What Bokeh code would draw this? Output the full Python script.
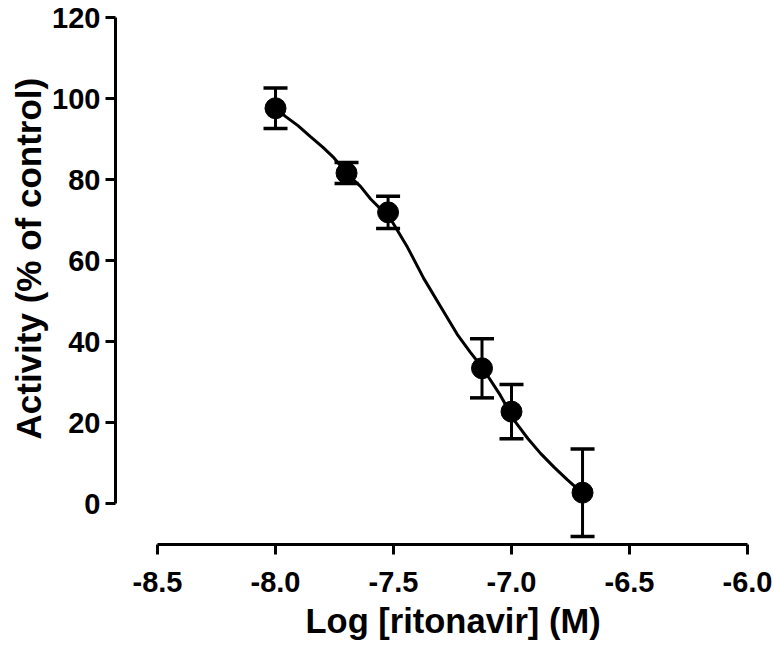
from bokeh.plotting import figure
from bokeh.models import ColumnDataSource, Whisker, TeeHead, FixedTicker, Range1d, Title
from bokeh.embed import file_html
from bokeh.resources import INLINE

# ---- data ----
log_conc = [-8.0, -7.699, -7.523, -7.125, -7.0, -6.699]
activity = [97.6, 81.6, 71.9, 33.4, 22.7, 2.7]
sem = [5.0, 2.6, 4.0, 7.3, 6.7, 10.8]

curve_x = [-8.0, -7.958, -7.905, -7.852, -7.800, -7.753, -7.689, -7.640, -7.597,
           -7.513, -7.440, -7.372, -7.300, -7.230, -7.175, -7.124, -7.047,
           -6.983, -6.930, -6.877, -6.820, -6.764, -6.700]
curve_y = [97.7, 95.6, 93.3, 90.6, 88.0, 85.4, 81.0, 78.3, 75.2,
           70.3, 63.2, 55.6, 48.6, 41.8, 37.4, 33.6, 26.7,
           20.1, 16.0, 12.4, 9.0, 5.9, 2.6]

x_ticks = [-8.5, -8.0, -7.5, -7.0, -6.5, -6.0]
x_tick_labels = ["-8.5", "-8.0", "-7.5", "-7.0", "-6.5", "-6.0"]
y_ticks = [0, 20, 40, 60, 80, 100, 120]
x_title = "Log [ritonavir] (M)"
y_title = "Activity (% of control)"

FONT = "Liberation Sans"

p = figure(width=774, height=645, output_backend="svg", toolbar_location=None,
           x_range=Range1d(-8.678, -6.0), y_range=Range1d(-10.1, 120),
           min_border_left=115, min_border_right=27, min_border_top=17,
           min_border_bottom=100)
p.outline_line_color = None
p.xgrid.visible = False
p.ygrid.visible = False
p.background_fill_color = "white"
p.border_fill_color = "white"

upper = [a + e for a, e in zip(activity, sem)]
lower = [a - e for a, e in zip(activity, sem)]
src = ColumnDataSource(dict(x=log_conc, y=activity, upper=upper, lower=lower))

p.line(curve_x, curve_y, line_color="black", line_width=3)

w = Whisker(source=src, base="x", upper="upper", lower="lower",
            line_color="black", line_width=3,
            upper_head=TeeHead(size=24, line_width=3.5, line_color="black"),
            lower_head=TeeHead(size=24, line_width=3.5, line_color="black"))
p.add_layout(w)

p.scatter("x", "y", source=src, size=21, marker="circle",
          fill_color="black", line_color="black")

for ax in (p.xaxis[0], p.yaxis[0]):
    ax.axis_line_width = 3
    ax.axis_line_color = "black"
    ax.major_tick_line_width = 3
    ax.major_tick_line_color = "black"
    ax.major_tick_out = 10
    ax.major_tick_in = 0
    ax.minor_tick_line_color = None
    ax.major_label_text_font = FONT
    ax.major_label_text_font_style = "bold"
    ax.major_label_text_font_size = "29px"
    ax.major_label_text_color = "black"

p.xaxis.ticker = FixedTicker(ticks=x_ticks)
p.xaxis.major_label_overrides = {t: l for t, l in zip(x_ticks, x_tick_labels)}
p.xaxis.bounds = (-8.5, -6.0)
p.xaxis.major_label_standoff = 17

p.yaxis.ticker = FixedTicker(ticks=y_ticks)
p.yaxis.bounds = (0, 120)
p.yaxis.major_label_standoff = 5

xt = Title(text=x_title, align="left", offset=190, standoff=11,
           text_font=FONT, text_font_style="bold", text_font_size="34.5px",
           text_color="black")
p.add_layout(xt, "below")

yt = Title(text=y_title, align="left", offset=105, standoff=0,
           vertical_align="top",
           text_font=FONT, text_font_style="bold", text_font_size="35px",
           text_color="black")
p.add_layout(yt, "left")

open("out.html", "w").write(file_html(p, INLINE))
